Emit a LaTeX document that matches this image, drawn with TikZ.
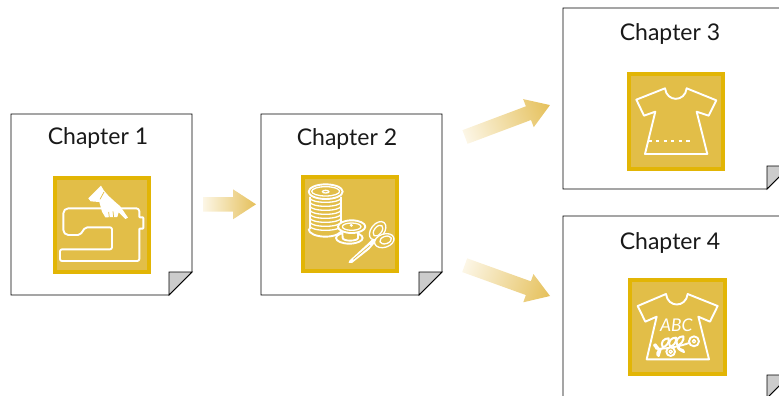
\documentclass[tikz,border=0pt]{standalone}
\usepackage{fontspec}
\setmainfont{Lato}
\definecolor{icofill}{HTML}{E2BE48}
\definecolor{icoedge}{HTML}{E2B505}
\definecolor{foldgray}{HTML}{CCCCCC}
\definecolor{arrowend}{HTML}{E5C05A}
\definecolor{arrowstart}{HTML}{FCF6E6}
\tikzset{
  pageline/.style={draw=black,line width=0.9pt,fill=white,line join=miter},
  foldline/.style={draw=black,line width=0.9pt,fill=foldgray,line join=miter},
  icobox/.style={fill=icofill,draw=icoedge,line width=4pt},
  whiteline/.style={draw=white,line width=1.9pt,line join=round,line cap=round},
  thinwhite/.style={draw=white,line width=1.3pt,line join=round,line cap=round},
  chaptitle/.style={font=\fontsize{23}{27}\selectfont,text=black!90,inner sep=0pt,anchor=center},
}
\newcommand{\docpage}[4]{%
  \draw[pageline] (#1,#2) -- (#3,#2) -- (#3,#4-23) -- (#3-23,#4) -- (#1,#4) -- cycle;
  \draw[foldline] (#3-23,#4-23) -- (#3,#4-23) -- (#3-23,#4) -- cycle;
}
\newcommand{\blockarrow}[4]{% x y angle length
  \begin{scope}[transform canvas={shift={(#1,#2)},rotate=#3}]
    \shade[left color=arrowstart,right color=arrowend]
      (0,-7.3) -- (#4-23,-7.3) -- (#4-23,-15) -- (#4,0) -- (#4-23,15) -- (#4-23,7.3) -- (0,7.3) -- cycle;
  \end{scope}
}
\begin{document}
\begin{tikzpicture}[x=1pt,y=-1pt]
\useasboundingbox (0,0) rectangle (779,396);
\clip (0,0) rectangle (779,396);
% pages
\docpage{11}{114}{192}{295}
\docpage{261}{114}{442}{295}
\docpage{563}{8}{790}{189}
\docpage{563}{216}{790}{398}
% titles
\node[chaptitle] (t1) at (98,138.5) {Chapter 1};
\node[chaptitle] (t2) at (347,139) {Chapter 2};
\node[chaptitle] (t3) at (670,34.5) {Chapter 3};
\node[chaptitle] (t4) at (670,243.5) {Chapter 4};
% icon boxes
\draw[icobox] (54.7,178) rectangle (149,272.3);
\draw[icobox] (303,176.7) rectangle (397.3,270.7);
\draw[icobox] (629,74.3) rectangle (723,168.7);
\draw[icobox] (630.3,280) rectangle (725,374);
% arrows
\blockarrow{203}{204.3}{0}{53}
\blockarrow{465}{137}{20.6}{90.8}
\blockarrow{464.7}{265.2}{-19.85}{90.7}
% sewing machine
\begin{scope}[shift={(40,170)},x=0.3333pt,y=-0.3333pt]
  \draw[whiteline,rounded corners=1pt] (85,115) -- (285,115)
     [rounded corners=3pt] -- (298,115) [rounded corners=0.6pt] -- (298,142) -- (310,142) -- (310,176) -- (298,176) [rounded corners=2pt] -- (298,273) -- (60,273) -- (60,238) -- (216,238) -- (216,172) -- (136,172) -- (120,195) [rounded corners=5pt] -- (70,195) -- (70,115) -- (85,115);
  \fill[white] (145,85) -- (183,47) -- (192,62) -- (206,78) -- (228,98) -- (240,108) -- (264,143) -- (256,147) -- (236,127) -- (232,141) -- (196,142) -- (186,125) -- (178,96) -- (152,94) -- cycle;
  \draw[icofill,line width=0.7pt] (206,126) -- (208,142) (219,124) -- (221,142) (180,88) -- (192,66);
\end{scope}
% spool, bobbin, scissors
\begin{scope}[shift={(290,170)},x=0.3333pt,y=-0.3333pt]
  \foreach \yy in {84,96,108,120,132,144,156,168}{
    \draw[thinwhite] (60,\yy) arc[start angle=180,end angle=0,x radius=46.5,y radius=13];
  }
  \draw[whiteline] (60,82) -- (60,176);
  \draw[whiteline] (153,82) -- (153,170);
  \draw[whiteline,fill=icofill] (107,65) ellipse[x radius=51,y radius=22];
  \draw[thinwhite] (107,64) ellipse[x radius=42,y radius=14];
  \draw[thinwhite] (107,65) ellipse[x radius=10,y radius=4];
  \draw[whiteline] (56,178) arc[start angle=180,end angle=0,x radius=50,y radius=22];
  % bobbin
  \draw[whiteline,fill=icofill] (178,204) ellipse[x radius=40,y radius=17];
  \draw[whiteline,fill=icofill] (156,172) -- (158,204) arc[start angle=180,end angle=0,x radius=23,y radius=8] -- (204,172) -- cycle;
  \draw[whiteline,fill=icofill] (185,170) ellipse[x radius=41,y radius=19];
  \draw[thinwhite] (185,170) ellipse[x radius=28,y radius=11];
  \fill[white] (184,166) circle[radius=5];
  % scissors
  \fill[white] (178,272) -- (232,222) -- (252,202) -- (260,212) -- (238,238) -- (186,279) -- (176,279) -- cycle;
  \draw[icofill,line width=0.7pt] (190,268) -- (240,226);
  \draw[thinwhite,fill=icofill,rotate around={52:(263,182)}] (263,182) ellipse[x radius=31,y radius=20];
  \draw[thinwhite,fill=icofill,rotate around={18:(283,212)}] (283,212) ellipse[x radius=30,y radius=20];
  \draw[thinwhite,rotate around={52:(264,182)}] (264,182) ellipse[x radius=19,y radius=11];
  \draw[thinwhite,rotate around={18:(287,210)}] (287,210) ellipse[x radius=18,y radius=11];
\end{scope}
% shirt
\begin{scope}[shift={(620,65)},x=0.3333pt,y=-0.3333pt]
  \draw[whiteline] (135,70) .. controls (140,112) and (195,112) .. (200,70) -- (289,106) -- (266,152) -- (230,140) -- (262,267) -- (75,267) -- (106,140) -- (72,152) -- (49,104) -- cycle;
  \draw[whiteline,line cap=butt,dash pattern=on 3.3pt off 4.3pt] (85,228) -- (217,228);
\end{scope}
% decorated shirt
\begin{scope}[shift={(620,270)},x=0.3333pt,y=-0.3333pt]
  \draw[whiteline] (138,72) .. controls (143,114) and (198,114) .. (203,72) -- (293,108) -- (270,155) -- (235,140) -- (267,268) -- (80,268) -- (110,140) -- (76,155) -- (53,108) -- cycle;
  \node[inner sep=0pt,text=white,font=\fontsize{17.5}{19}\selectfont\itshape] (abc) at (169,167) {ABC};
  \draw[whiteline] (108,236) .. controls (140,238) and (185,228) .. (222,214);
  \draw[whiteline,fill=icofill] (152,245) circle[radius=13];
  \draw[whiteline,fill=icofill] (222,214) circle[radius=15];
  \draw[thinwhite] (152,245) circle[radius=5];
  \draw[thinwhite] (222,214) circle[radius=5];
  \foreach \a/\b/\c/\d in {128/232/146/205,150/230/168/203,172/226/190/199}{
    \draw[whiteline,line width=2pt] (\a,\b) .. controls (\a-8,\b-16) and (\c-14,\d) .. (\c,\d) .. controls (\c+3,\d+14) and (\a+10,\b-2) .. (\a,\b);
  }
  \foreach \a/\b/\c/\d in {122/238/104/224,122/238/116/258,176/230/192/246}{
    \draw[whiteline,line width=2pt] (\a,\b) .. controls (\a-2,\b+10) and (\c,\d-10) .. (\c,\d) .. controls (\c-8,\d-2) and (\a-10,\b+2) .. (\a,\b);
  }
\end{scope}
\end{tikzpicture}
\end{document}
